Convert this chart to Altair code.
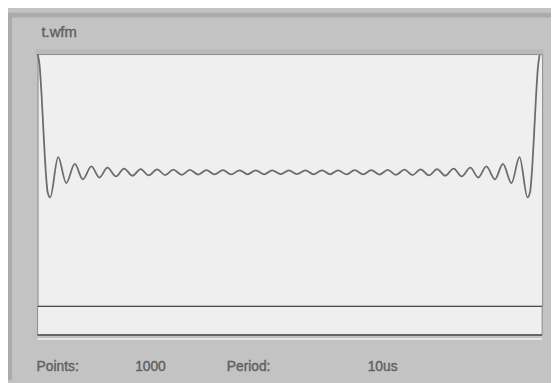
import altair as alt
import pandas as pd

# waveform samples (sample index, normalised amplitude)
sample_idx = [0, 4, 8, 12, 16, 20,
              25, 41, 57, 74, 90, 107, 123, 139, 156, 172, 189, 205, 221, 238, 254,
              270, 287, 303, 320, 336, 352, 369, 385, 402, 418, 434, 451, 467, 484, 500,
              516, 533, 549, 566, 582, 598, 615, 631, 648, 664, 680, 697, 713, 730,
              746, 762, 779, 795, 811, 828, 844, 861, 877, 893, 910, 926, 943, 959, 975,
              980, 984, 988, 992, 996, 999]
wave_values = [1.000, 0.905, 0.652, 0.325, 0.025, -0.167,
               -0.213, 0.128, -0.091, 0.071, -0.059, 0.050, -0.044, 0.039, -0.035, 0.032,
               -0.029, 0.027, -0.026, 0.024, -0.023, 0.022, -0.021, 0.020, -0.019, 0.019,
               -0.018, 0.018, -0.018, 0.017, -0.017, 0.017, -0.017, 0.017, -0.016, 0.016,
               -0.016, 0.017, -0.017, 0.017, -0.017, 0.017, -0.018, 0.018, -0.018, 0.019,
               -0.019, 0.020, -0.021, 0.022, -0.023, 0.024, -0.026, 0.027, -0.029, 0.032,
               -0.035, 0.039, -0.044, 0.050, -0.059, 0.071, -0.091, 0.128, -0.213,
               -0.167, 0.025, 0.325, 0.652, 0.905, 0.994]

title_text = "t.wfm"
info_labels = ["Points:", "1000", "Period:", "10us"]

df = pd.DataFrame({"sample": sample_idx, "value": wave_values})
dummy = pd.DataFrame({"k": [0]})

W, H = 512, 256
FONT = "Liberation Sans"
TXT = "#606060"

line = alt.Chart(df).mark_line(
    color="#6c6c6c", strokeWidth=1.8, interpolate="monotone"
).encode(
    x=alt.X("sample:Q", scale=alt.Scale(domain=[0, 1004], nice=False, zero=False), axis=None),
    y=alt.Y("value:Q", scale=alt.Scale(domain=[-1.134, 1.0], nice=False, zero=False), axis=None),
)

base = alt.Chart(dummy)

# outer panel bevel
top_band = base.mark_rect(color="#ababab").encode(
    x=alt.value(-30), x2=alt.value(521), y=alt.value(-42), y2=alt.value(-37))
left_band = base.mark_rect(color="#ababab").encode(
    x=alt.value(-30), x2=alt.value(-26), y=alt.value(-42), y2=alt.value(331))
upper_shade = base.mark_rect(color="#b9b9b9").encode(
    x=alt.value(-2), x2=alt.value(513), y=alt.value(-5), y2=alt.value(0))

# lower strip
strip = base.mark_rect(fill="#efefef", stroke="#8a8a8a", strokeWidth=1).encode(
    x=alt.value(0), x2=alt.value(W), y=alt.value(H), y2=alt.value(H + 29))
rule1 = base.mark_rule(color="#4e4e4e", strokeWidth=1.5).encode(
    x=alt.value(0), x2=alt.value(W), y=alt.value(H))
rule2 = base.mark_rule(color="#4e4e4e", strokeWidth=1.5).encode(
    x=alt.value(0), x2=alt.value(W), y=alt.value(H + 29))
rule3 = base.mark_rule(color="#f2f2f2", strokeWidth=1.5).encode(
    x=alt.value(0), x2=alt.value(W), y=alt.value(H + 33))


def label(txt, x, y, size):
    return base.mark_text(
        text=txt, align="left", baseline="middle", font=FONT, fontSize=size,
        color=TXT, stroke=TXT, strokeWidth=0.4,
    ).encode(x=alt.value(x), y=alt.value(y))


title = label(title_text, 4, -22, 15)
l1 = label(info_labels[0], -1, 318, 14)
l2 = label(info_labels[1], 99, 318, 14)
l3 = label(info_labels[2], 192, 318, 14)
l4 = label(info_labels[3], 335, 318, 14)

chart = alt.layer(
    top_band, left_band, upper_shade, strip, rule1, rule2, rule3, line,
    title, l1, l2, l3, l4
).properties(
    width=W, height=H,
    background="#c3c3c3",
    padding={"left": 30, "top": 44, "right": 9, "bottom": 75},
    autosize=alt.AutoSizeParams(type="none"),
).configure_view(fill="#efefef", stroke="#8a8a8a", strokeWidth=1)

chart.save("out.html", embed_options={"renderer": "svg", "actions": False})
